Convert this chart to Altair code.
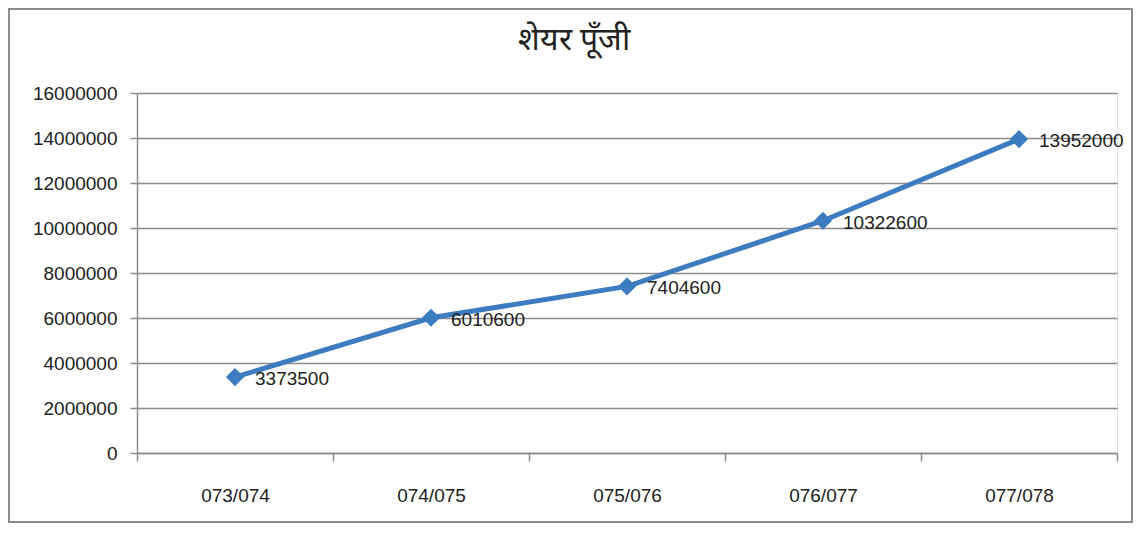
import altair as alt
import pandas as pd

years = ["073/074", "074/075", "075/076", "076/077", "077/078"]
values = [3373500, 6010600, 7404600, 10322600, 13952000]
y_ticks = [0, 2000000, 4000000, 6000000, 8000000, 10000000, 12000000, 14000000, 16000000]
title_text = "शेयर पूँजी"

df = pd.DataFrame({"year": years, "value": values})

FONT = "Liberation Sans"
GRAY = "#8c8c8c"
BLUE = "#3d7cc0"

base = alt.Chart(df)

x_enc = alt.X(
    "year:N",
    sort=years,
    bandPosition=0.5,
    scale=alt.Scale(type="band", paddingInner=0, paddingOuter=0),
    axis=alt.Axis(
        title=None,
        tickBand="extent",
        tickSize=8,
        tickColor=GRAY,
        tickWidth=1.5,
        domainColor=GRAY,
        domainWidth=1.5,
        labelFont=FONT,
        labelFontSize=19,
        labelColor="#222222",
        labelPadding=25,
        labelAngle=0,
        grid=False,
    ),
)
y_enc = alt.Y(
    "value:Q",
    scale=alt.Scale(domain=[0, 16000000], nice=False, zero=True),
    axis=alt.Axis(
        title=None,
        values=y_ticks,
        format="d",
        tickSize=7,
        tickColor=GRAY,
        tickWidth=1.5,
        domainColor=GRAY,
        domainWidth=1.5,
        gridColor=GRAY,
        gridWidth=1.5,
        labelFont=FONT,
        labelFontSize=19,
        labelColor="#222222",
        labelPadding=13,
    ),
)

single = alt.Data(values=[{"a": 1}])

border = alt.Chart(single).mark_rect(
    fillOpacity=0, stroke=GRAY, strokeWidth=2
).encode(
    x=alt.value(-128), x2=alt.value(995), y=alt.value(-84), y2=alt.value(429)
)

title = alt.Chart(single).mark_text(
    text=title_text, fontSize=32, fontWeight="normal", color="#222222",
    align="center", baseline="middle"
).encode(x=alt.value(437), y=alt.value(-53))

line = base.mark_line(color=BLUE, strokeWidth=5).encode(x=x_enc, y=y_enc)
points = base.mark_point(
    shape="diamond", filled=True, color=BLUE, size=330, opacity=1
).encode(x=x_enc, y=y_enc)
labels = base.mark_text(
    align="left", baseline="middle", dx=20, dy=2, font=FONT, fontSize=19, color="#222222"
).encode(x=x_enc, y=y_enc, text=alt.Text("value:Q", format="d"))

chart = alt.layer(border, title, line, points, labels).properties(
    width=980,
    height=360,
    padding={"left": 129, "top": 85, "right": 16, "bottom": 70},
    autosize=alt.AutoSizeParams(type="none"),
).configure_view(stroke=None).configure(background="white")

chart.save("out.html", embed_options={"renderer": "svg", "actions": False})
